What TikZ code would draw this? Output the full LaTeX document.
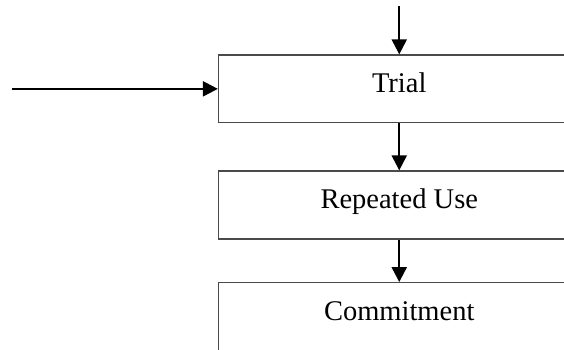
\documentclass[tikz,border=0pt]{standalone}
\usepackage{fontspec}
\setmainfont{Liberation Serif}
\usetikzlibrary{arrows.meta}
\definecolor{boxgray}{HTML}{4A4A4A}
\begin{document}
\begin{tikzpicture}[x=1pt,y=1pt,
  stagebox/.style={draw=boxgray, line width=1.3pt, minimum width=361.5pt, inner sep=0pt,
    text height=37.5pt, font=\fontsize{28.5}{34}\selectfont, align=center},
  flow/.style={draw=black, line width=2.3pt, -{Triangle[length=15pt,width=15pt]}}]
\useasboundingbox (0,0) rectangle (564,-350);
\clip (0,0) rectangle (564,-350);
\node[stagebox, text depth=30.2pt] (trial) at (399.25,-88.85) {Trial};
\node[stagebox, text depth=30.5pt] (repeated) at (399.25,-205) {Repeated Use};
\node[stagebox, text depth=52.5pt] (commit) at (399.25,-327.7) {Commitment};
\coordinate (topin) at (399.25,-6);
\coordinate (leftin) at (12,-88.85);
\draw[flow] (topin) -- (trial.north);
\draw[flow] (leftin) -- (trial.west);
\draw[flow] (trial.south) -- (repeated.north);
\draw[flow] (repeated.south) -- (commit.north);
\end{tikzpicture}
\end{document}
